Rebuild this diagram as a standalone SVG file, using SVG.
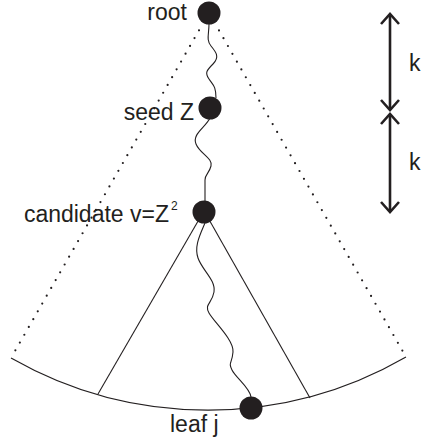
<svg xmlns="http://www.w3.org/2000/svg" width="423" height="441" viewBox="0 0 423 441">
  <defs>
    <style>
      .lbl { font-family: "Liberation Sans", Arial, sans-serif; font-size: 23px; fill: #231f20; }
      .sup { font-family: "Liberation Sans", Arial, sans-serif; font-size: 12px; fill: #231f20; }
      .node { fill: #231f20; }
      .dots { fill: none; stroke: #231f20; stroke-width: 2.2; stroke-linecap: round; stroke-dasharray: 0 9; }
      .wave { fill: none; stroke: #231f20; stroke-width: 1.1; }
      .edge { fill: none; stroke: #231f20; stroke-width: 1.1; }
      .dim { fill: none; stroke: #231f20; stroke-width: 2.6; marker-start: url(#chev); marker-end: url(#chev); }
    </style>
    <marker id="chev" markerUnits="userSpaceOnUse" markerWidth="24" markerHeight="24" refX="11" refY="10" orient="auto-start-reverse" overflow="visible">
      <path d="M1,1 L11,10 L1,19" fill="none" stroke="#231f20" stroke-width="2.6"/>
    </marker>
  </defs>

  <!-- connectors -->
  <g id="connectors">
    <!-- dotted outline of the full subtree -->
    <line class="dots" x1="199" y1="30.3" x2="11" y2="358"/>
    <line class="dots" x1="219" y1="30.4" x2="406" y2="357"/>
    <!-- leaf level -->
    <path class="edge" d="M11,358 A397,397 0 0 0 406,357"/>
    <!-- subtree under the candidate -->
    <line class="edge" x1="201" y1="216" x2="98" y2="394"/>
    <line class="edge" x1="207" y1="216" x2="310" y2="398"/>
    <!-- wavy paths -->
    <path class="wave" d="M209,24 C209,34 206,40 211,46 S220,57 213,64 S205,73 209,79 S216,86 216,98"/>
    <path class="wave" d="M210,118 C205,128 192,134 196,144 S213,158 211,166 S205,174 205,180 L205,201"/>
    <path class="wave" d="M205,223 C200,235 194,246 198,258 S216,280 214,292 S204,304 209,313 S234,340 233,352 S228,362 232,370 S250,388 251,397"/>
    <!-- k dimension arrows -->
    <line class="dim" x1="390" y1="14" x2="390" y2="110"/>
    <line class="dim" x1="390" y1="114" x2="390" y2="212"/>
  </g>

  <g id="root">
    <circle class="node" cx="209" cy="13" r="11.5"/>
    <text class="lbl" x="187" y="20" text-anchor="end">root</text>
  </g>

  <g id="seed">
    <circle class="node" cx="210" cy="108" r="11.5"/>
    <text class="lbl" x="194" y="120" text-anchor="end">seed Z</text>
  </g>

  <g id="candidate">
    <circle class="node" cx="204" cy="212" r="11.5"/>
    <text class="lbl" x="169" y="222" text-anchor="end">candidate v=Z</text>
    <text class="sup" x="171" y="210">2</text>
  </g>

  <g id="leaf">
    <circle class="node" cx="251" cy="408" r="11.5"/>
    <text class="lbl" x="170" y="432">leaf j</text>
  </g>

  <g id="k-labels">
    <text class="lbl" x="409" y="71">k</text>
    <text class="lbl" x="409" y="170">k</text>
  </g>
</svg>
